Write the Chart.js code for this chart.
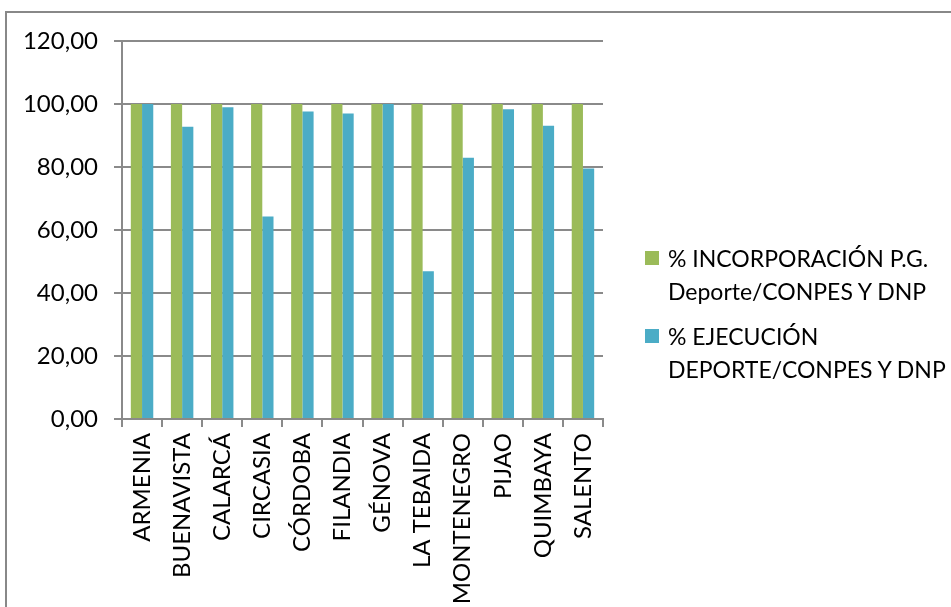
<!DOCTYPE html>
<html>
<head>
<meta charset="utf-8">
<script src="https://cdn.jsdelivr.net/npm/chart.js@4.4.0/dist/chart.umd.min.js"></script>
<style>
  html, body { margin: 0; padding: 0; background: #fff; }
  #wrap { position: relative; width: 951px; height: 607px; overflow: hidden; }
  #frame { position: absolute; left: 5px; top: 11px; width: 960px; height: 620px;
           border-top: 2px solid #888; border-left: 2px solid #888; box-sizing: border-box; }
  #myChart { position: absolute; left: 0; top: 0; }
  #legend { position: absolute; left: 645px; top: 242px; font-family: Lato, sans-serif;
            font-size: 23px; line-height: 33px; color: #000; }
  .item { position: relative; padding-left: 23px; margin-bottom: 12px; }
  .box { position: absolute; left: 0; top: 9px; width: 14px; height: 14px; }
</style>
</head>
<body>
<div id="wrap">
  <div id="frame"></div>
  <canvas id="myChart" width="951" height="607"></canvas>
  <div id="legend"></div>
</div>
<script>
const municipios = ['ARMENIA', 'BUENAVISTA', 'CALARCÁ', 'CIRCASIA', 'CÓRDOBA', 'FILANDIA',
  'GÉNOVA', 'LA TEBAIDA', 'MONTENEGRO', 'PIJAO', 'QUIMBAYA', 'SALENTO'];
const incorporacion = [100, 100, 100, 100, 100, 100, 100, 100, 100, 100, 100, 100];
const ejecucion = [100, 92.8, 99.0, 64.3, 97.6, 97.0, 100, 46.9, 82.9, 98.3, 93.1, 79.5];
const serieNombres = [
  ['% INCORPORACIÓN P.G.', 'Deporte/CONPES Y DNP'],
  ['% EJECUCIÓN', 'DEPORTE/CONPES Y DNP']
];
const colores = ['#9BBB59', '#4BACC6'];

const ctx = document.getElementById('myChart').getContext('2d');
const gridColor = '#8a8a8a';

const chart = new Chart(ctx, {
  type: 'bar',
  data: {
    labels: municipios,
    datasets: [{
      label: serieNombres[0].join(' '),
      data: incorporacion,
      backgroundColor: colores[0],
      categoryPercentage: 0.56,
      barPercentage: 1.0
    }, {
      label: serieNombres[1].join(' '),
      data: ejecucion,
      backgroundColor: colores[1],
      categoryPercentage: 0.56,
      barPercentage: 1.0
    }]
  },
  options: {
    responsive: false,
    animation: false,
    layout: { padding: { left: 0, top: 41, right: 348, bottom: 0 } },
    plugins: { legend: { display: false }, tooltip: { enabled: false } },
    scales: {
      x: {
        afterFit: (s) => { s.height = 188; },
        grid: { display: true, drawOnChartArea: false, drawTicks: true, tickLength: 8,
                color: gridColor, lineWidth: 2 },
        border: { display: true, color: gridColor, width: 2 },
        ticks: { color: '#000', font: { family: 'Lato', size: 24 }, minRotation: 90, maxRotation: 90,
                 padding: 6, autoSkip: false }
      },
      y: {
        min: 0, max: 120,
        afterFit: (s) => { s.width = 122; },
        grid: { color: gridColor, lineWidth: 2, drawTicks: true, tickLength: 8 },
        border: { display: true, color: gridColor, width: 2 },
        ticks: { stepSize: 20, color: '#000', font: { family: 'Lato', size: 24 }, padding: 16,
                 callback: (v) => v.toFixed(2).replace('.', ',') }
      }
    }
  }
});

const legend = document.getElementById('legend');
serieNombres.forEach((lines, i) => {
  const item = document.createElement('div');
  item.className = 'item';
  const box = document.createElement('span');
  box.className = 'box';
  box.style.background = colores[i];
  item.appendChild(box);
  lines.forEach(t => {
    const d = document.createElement('div');
    d.textContent = t;
    item.appendChild(d);
  });
  legend.appendChild(item);
});
</script>
</body>
</html>
